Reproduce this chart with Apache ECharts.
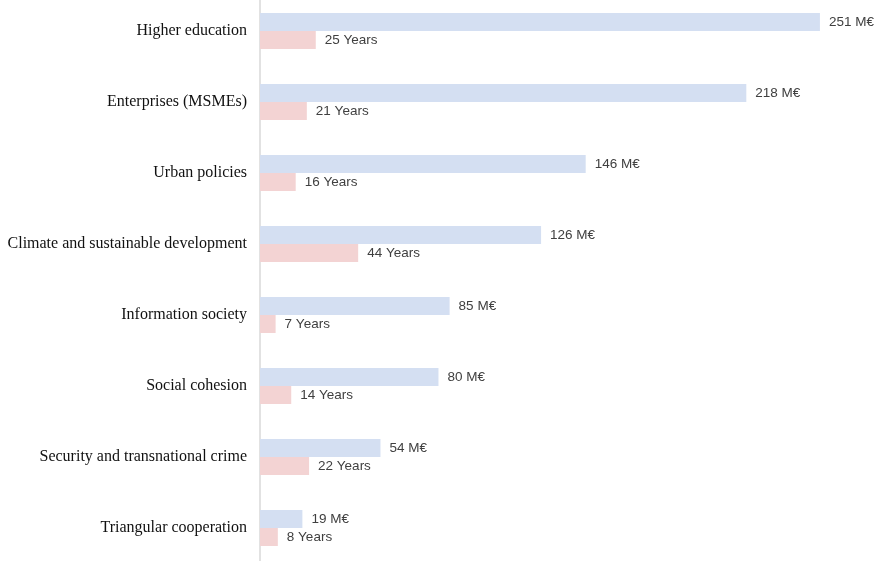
<!DOCTYPE html>
<html>
<head>
<meta charset="utf-8">
<script src="https://cdn.jsdelivr.net/npm/echarts@6/dist/echarts.min.js"></script>
<style>html,body{margin:0;padding:0;background:#fff}#c{width:878px;height:561px}</style>
</head>
<body>
<div id="c"></div>
<script>
const categories = ["Higher education","Enterprises (MSMEs)","Urban policies","Climate and sustainable development","Information society","Social cohesion","Security and transnational crime","Triangular cooperation"];
const budgetMEUR = [251, 218, 146, 126, 85, 80, 54, 19];
const durationYears = [25, 21, 16, 44, 7, 14, 22, 8];

const chart = echarts.init(document.getElementById('c'));
const labelStyle = {show: true, position: 'right', distance: 9, color: '#404040', fontFamily: 'Liberation Sans, Arial, sans-serif', fontSize: 13.5};
chart.setOption({
  animation: false,
  grid: {left: 260, width: 580, top: -4.5, height: 568, containLabel: false, outerBoundsMode: 'none'},
  xAxis: {type: 'value', min: 0, max: 260, show: false},
  yAxis: {
    type: 'category', data: categories, inverse: true,
    axisLine: {show: true, lineStyle: {color: '#d9d9d9', width: 1.5}},
    axisTick: {show: false},
    axisLabel: {color: '#111', fontFamily: 'Liberation Serif, Times New Roman, serif', fontSize: 16, margin: 13}
  },
  series: [
    {type: 'bar', name: 'Budget', data: budgetMEUR, barWidth: 18, barGap: '0%',
     itemStyle: {color: '#d4dff2'},
     label: Object.assign({}, labelStyle, {formatter: p => p.value + ' M€'})},
    {type: 'bar', name: 'Years', data: durationYears, barWidth: 18, barGap: '0%',
     itemStyle: {color: '#f3d3d3'},
     label: Object.assign({}, labelStyle, {formatter: p => p.value + ' Years'})}
  ]
});
</script>
</body>
</html>
